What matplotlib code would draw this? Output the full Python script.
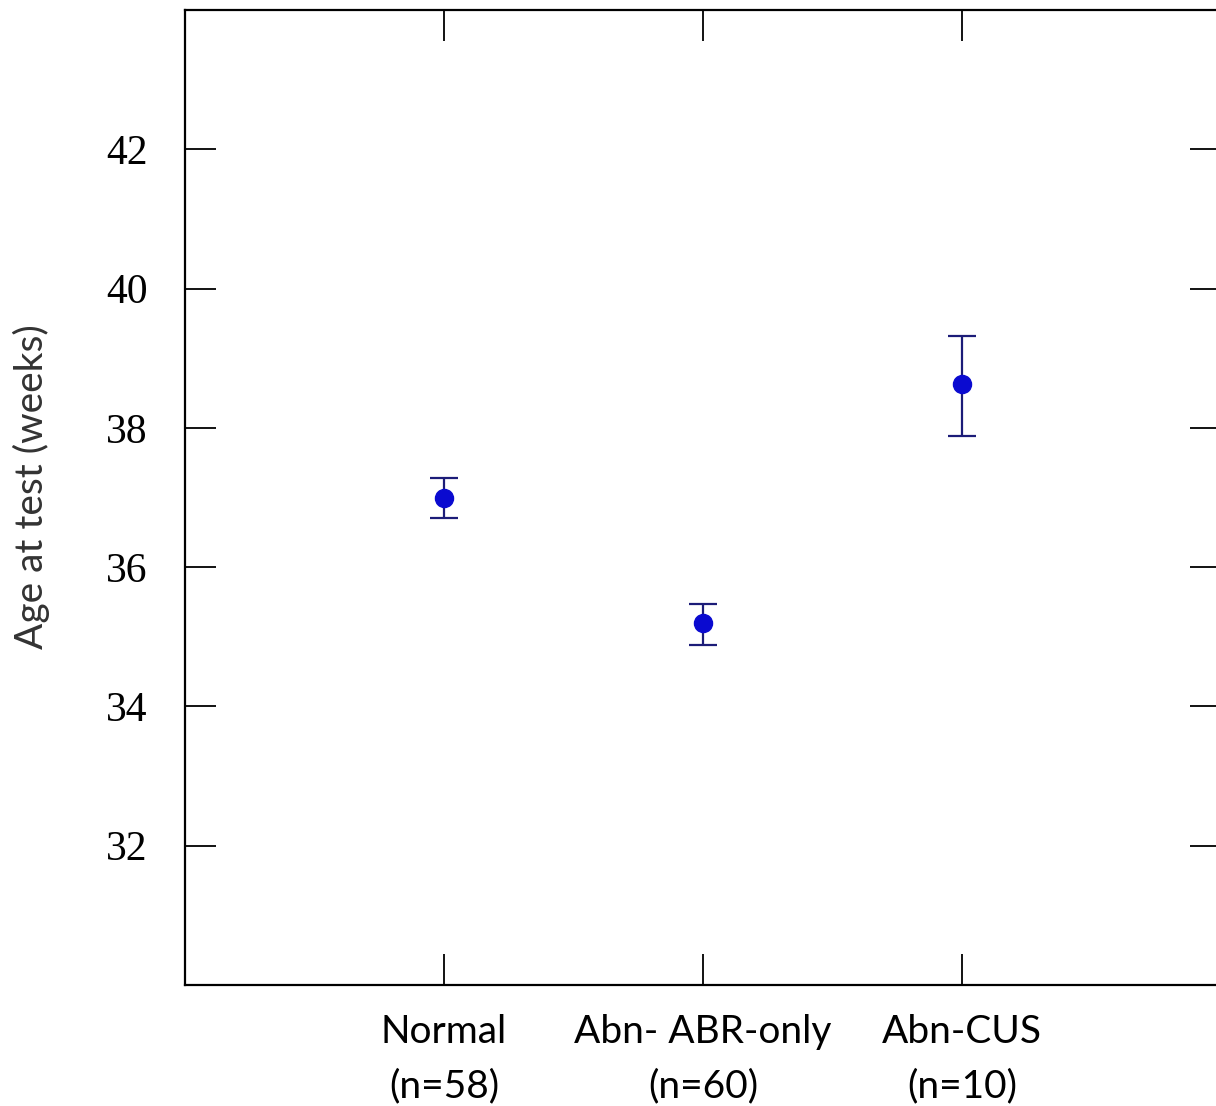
import matplotlib
matplotlib.use('Agg')
import matplotlib.pyplot as plt

# group labels and values
groups = ['Normal\n(n=58)', 'Abn- ABR-only\n(n=60)', 'Abn-CUS\n(n=10)']
means = [37.0, 35.2, 38.63]
lower = [36.7, 34.88, 37.88]
upper = [37.28, 35.47, 39.32]
yticks = [32, 34, 36, 38, 40, 42]

x = [1, 2, 3]
err = [[m - lo for m, lo in zip(means, lower)],
       [hi - m for m, hi in zip(means, upper)]]

fig = plt.figure(figsize=(12.16, 11.06), dpi=100)
ax = fig.add_axes([185 / 1216, 1 - 985 / 1106, 1036 / 1216, 975 / 1106])

ax.errorbar(x, means, yerr=err, fmt='none', ecolor='#1c1c78',
            elinewidth=1.6, capsize=10, capthick=1.6)
ax.plot(x, means, 'o', color='#0a0ad0', markersize=13)

ax.set_xlim(0, 4)
ax.set_ylim(30, 44)
ax.set_xticks(x)
ax.set_xticklabels(groups, fontsize=28, family='Lato', linespacing=1.63)
ax.set_yticks(yticks)
ax.set_yticklabels([str(t) for t in yticks], fontsize=30, family='Liberation Serif')
ax.tick_params(direction='in', length=22, width=1.3, top=True, right=True,
               labeltop=False, labelright=False)
ax.tick_params(axis='x', pad=21)
ax.tick_params(axis='y', pad=27)
for s in ax.spines.values():
    s.set_linewidth(1.6)

ax.set_ylabel('Age at test (weeks)', fontsize=28, family='Lato', color='#333333')
ax.yaxis.set_label_coords(-0.13, 0.511)

fig.savefig('out.png', dpi=100)
